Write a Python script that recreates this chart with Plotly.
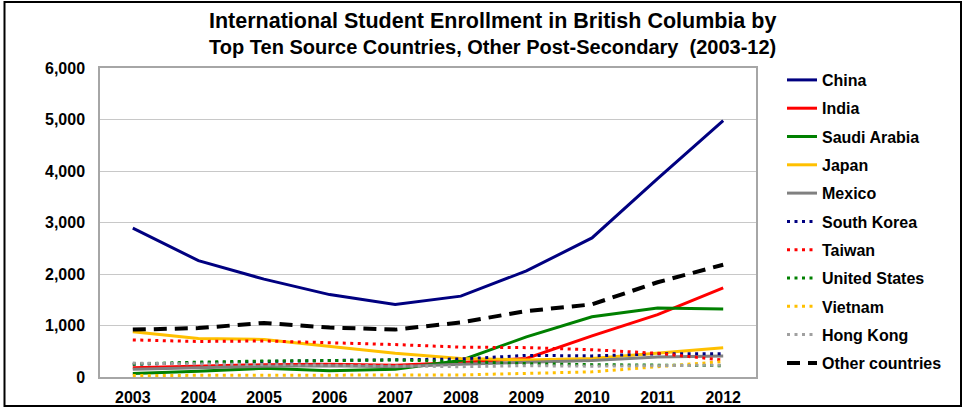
import plotly.graph_objects as go

years = ["2003", "2004", "2005", "2006", "2007", "2008", "2009", "2010", "2011", "2012"]

china = [2890, 2260, 1900, 1600, 1410, 1570, 2060, 2700, 3850, 4980]
india = [180, 210, 240, 250, 230, 280, 360, 800, 1210, 1730]
saudi_arabia = [70, 110, 170, 120, 150, 320, 780, 1170, 1340, 1320]
japan = [880, 750, 730, 600, 460, 360, 330, 360, 470, 570]
mexico = [150, 180, 210, 220, 200, 250, 290, 320, 390, 410]
south_korea = [250, 280, 300, 320, 340, 350, 420, 410, 450, 450]
taiwan = [720, 690, 700, 670, 630, 580, 570, 530, 460, 330]
united_states = [250, 290, 310, 320, 330, 300, 260, 240, 230, 220]
vietnam = [30, 30, 30, 30, 30, 40, 70, 100, 200, 300]
hong_kong = [270, 250, 240, 230, 210, 200, 220, 210, 220, 230]
other_countries = [920, 950, 1050, 960, 920, 1060, 1280, 1410, 1840, 2180]

title_line1 = "International Student Enrollment in British Columbia by"
title_line2 = "Top Ten Source Countries, Other Post-Secondary  (2003-12)"

series = [
    ("China", china, "#000080", "solid"),
    ("India", india, "#FF0000", "solid"),
    ("Saudi Arabia", saudi_arabia, "#008000", "solid"),
    ("Japan", japan, "#FFC000", "solid"),
    ("Mexico", mexico, "#808080", "solid"),
    ("South Korea", south_korea, "#000080", "dot"),
    ("Taiwan", taiwan, "#FF0000", "dot"),
    ("United States", united_states, "#008000", "dot"),
    ("Vietnam", vietnam, "#FFC000", "dot"),
    ("Hong Kong", hong_kong, "#A0A0A0", "dot"),
    ("Other countries", other_countries, "#000000", "dash"),
]

FONT = "Liberation Sans, Arial, sans-serif"

fig = go.Figure()
for i, (name, vals, color, style) in enumerate(series):
    if style == "solid":
        dash, width = "solid", 3
    elif style == "dot":
        dash, width = "3px,4.5px", 3
    else:
        dash, width = "13px,8px", 4
    fig.add_trace(go.Scatter(
        x=years, y=vals, name=name, mode="lines",
        line=dict(color=color, width=width, dash=dash),
        legendgroup=f"g{i}",
    ))

W, H = 963, 408
L, R, T, B = 100, 756, 68, 377
pw, ph = R - L, B - T

def px(x):
    return (x - L) / pw

def py(y):
    return (B - y) / ph

fig.update_layout(
    width=W, height=H,
    margin=dict(l=L, r=W - R, t=T, b=H - B, pad=0, autoexpand=False),
    paper_bgcolor="white", plot_bgcolor="white",
    font=dict(family=FONT, color="#000000"),
    xaxis=dict(
        type="category", range=[-0.5, 9.5], automargin=False,
        showgrid=False, showline=True, linecolor="#A6A6A6", linewidth=1.5,
        mirror=True, ticks="", tickfont=dict(size=16, family=FONT, weight="bold"),
        ticklabelstandoff=5,
    ),
    yaxis=dict(
        range=[0, 6000], dtick=1000, tickformat=",", automargin=False,
        showgrid=True, gridcolor="#C8C8C8", gridwidth=1.2,
        showline=True, linecolor="#A6A6A6", linewidth=1.5, mirror=True,
        ticks="", tickfont=dict(size=16, family=FONT, weight="bold"),
        ticklabelstandoff=10, zeroline=False,
    ),
    legend=dict(
        x=px(782), y=py(63), xanchor="left", yanchor="top",
        font=dict(size=16, family=FONT, weight="bold"),
        tracegroupgap=4.5, bgcolor="rgba(0,0,0,0)",
        itemwidth=30, maxheight=400,
    ),
    showlegend=True,
    annotations=[dict(
        text=f"<span style='font-size:21.5px'>{title_line1}</span><br>{title_line2}",
        xref="paper", yref="paper",
        x=px(492), y=py(33.5), xanchor="center", yanchor="middle",
        showarrow=False, align="center",
        font=dict(size=20, family=FONT, weight="bold"),
    )],
    shapes=[dict(
        type="rect", xref="paper", yref="paper",
        x0=px(4.5), x1=px(961), y0=py(406), y1=py(2),
        line=dict(color="#000000", width=2), fillcolor="rgba(0,0,0,0)", layer="below",
    )],
)

fig.write_html("out.html", config={"displayModeBar": False},
               post_script="document.body.style.margin='0';")
